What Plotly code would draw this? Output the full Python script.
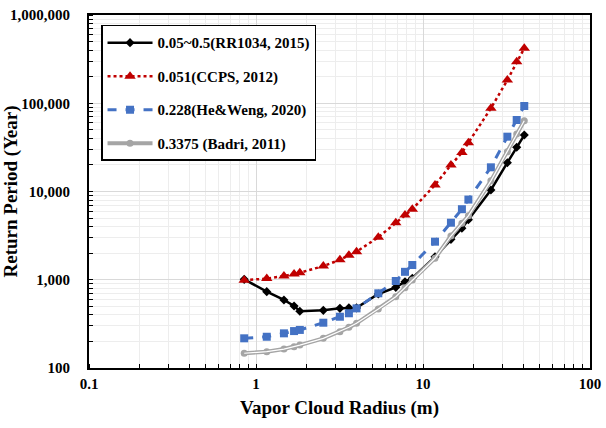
import plotly.graph_objects as go

radius = [0.85, 1.16, 1.47, 1.69, 1.83, 2.53, 3.18, 3.6, 4.0, 5.4, 6.87, 7.8, 8.63,
          11.8, 14.7, 17.1, 18.7, 25.5, 32, 36.4, 40.4]
rr1034 = [1010, 733, 590, 505, 440, 450, 474, 482, 480, 690, 820, 950, 1040,
          1820, 2870, 3830, 4800, 10400, 21200, 31700, 43600]
ccps = [990, 1030, 1100, 1160, 1200, 1430, 1680, 1900, 2080, 3030, 4430, 5420, 6280,
        11870, 19950, 27600, 35700, 87700, 183000, 296000, 420000]
heweng = [217, 226, 247, 262, 270, 326, 381, 417, 474, 702, 968, 1230, 1470,
          2700, 4430, 6300, 8100, 18800, 41800, 64600, 93100]
badri = [147, 153, 164, 174, 182, 217, 258, 289, 321, 465, 643, 810, 994,
         1750, 3130, 4370, 5300, 13200, 28200, 44900, 63400]

names = ["0.05~0.5(RR1034, 2015)", "0.051(CCPS, 2012)",
         "0.228(He&Weng, 2020)", "0.3375 (Badri, 2011)"]
y_ticks = [100, 1000, 10000, 100000, 1000000]
y_tick_text = ["100", "1,000", "10,000", "100,000", "1,000,000"]
x_ticks = [0.1, 1, 10, 100]
x_tick_text = ["0.1", "1", "10", "100"]

fig = go.Figure()
fig.add_trace(go.Scatter(x=radius, y=rr1034, name=names[0], mode="lines+markers",
                         legendgroup="a",
                         line=dict(color="black", width=2.5),
                         marker=dict(symbol="diamond", size=7, color="black")))
fig.add_trace(go.Scatter(x=radius, y=ccps, name=names[1], mode="lines+markers",
                         legendgroup="b",
                         line=dict(color="#C00000", width=2.5, dash="dot"),
                         marker=dict(symbol="triangle-up", size=10, color="#C00000")))
fig.add_trace(go.Scatter(x=radius, y=heweng, name=names[2], mode="lines+markers",
                         legendgroup="c",
                         line=dict(color="#4472C4", width=3, dash="dash"),
                         marker=dict(symbol="square", size=8, color="#4472C4")))
fig.add_trace(go.Scatter(x=radius, y=badri, name=names[3], mode="lines+markers",
                         legendgroup="d",
                         line=dict(color="#A5A5A5", width=4),
                         marker=dict(symbol="circle", size=7, color="#A5A5A5")))
fig.add_trace(go.Scatter(x=radius, y=badri, mode="lines", showlegend=False,
                         legendgroup="d", hoverinfo="skip",
                         line=dict(color="white", width=1.2)))

font_main = "Liberation Serif, Times New Roman, serif"
fig.update_layout(
    width=606, height=428,
    margin=dict(l=89, r=16, t=15, b=60, autoexpand=False),
    paper_bgcolor="white", plot_bgcolor="white",
    font=dict(family=font_main, color="black", size=15),
    showlegend=True,
    legend=dict(x=0.024, y=0.972, xanchor="left", yanchor="top",
                bordercolor="black", borderwidth=1.5, bgcolor="white",
                font=dict(family=font_main, size=15, color="black", weight="bold"),
                tracegroupgap=11, traceorder="grouped", itemwidth=45),
)
fig.update_xaxes(type="log", range=[-1, 2], automargin=False,
                 tickvals=x_ticks, ticktext=x_tick_text,
                 tickfont=dict(size=15, weight="bold"),
                 ticklabelstandoff=1,
                 showline=True, linecolor="black", linewidth=2, mirror=True,
                 showgrid=True, gridcolor="#D9D9D9", gridwidth=1,
                 ticks="",
                 minor=dict(showgrid=True, gridcolor="#EDEDED", ticks="inside",
                            ticklen=4, tickcolor="black", dtick="D1"),
                 title=dict(text="Vapor Cloud Radius (m)",
                            font=dict(size=19, weight="bold"), standoff=10),
                 zeroline=False)
fig.update_yaxes(type="log", range=[2, 6], automargin=False,
                 tickvals=y_ticks, ticktext=y_tick_text,
                 tickfont=dict(size=15, weight="bold"),
                 ticklabelstandoff=14,
                 showline=True, linecolor="black", linewidth=2, mirror=True,
                 showgrid=True, gridcolor="#D9D9D9", gridwidth=1,
                 ticks="",
                 minor=dict(showgrid=True, gridcolor="#EDEDED", ticks="inside",
                            ticklen=4, tickcolor="black", dtick="D1"),
                 title=dict(text="Return Period (Year)",
                            font=dict(size=19, weight="bold"), standoff=3),
                 zeroline=False)

fig.write_html("out.html", config={"displayModeBar": False},
               post_script="document.body.style.margin='0';document.body.style.overflow='hidden';")
